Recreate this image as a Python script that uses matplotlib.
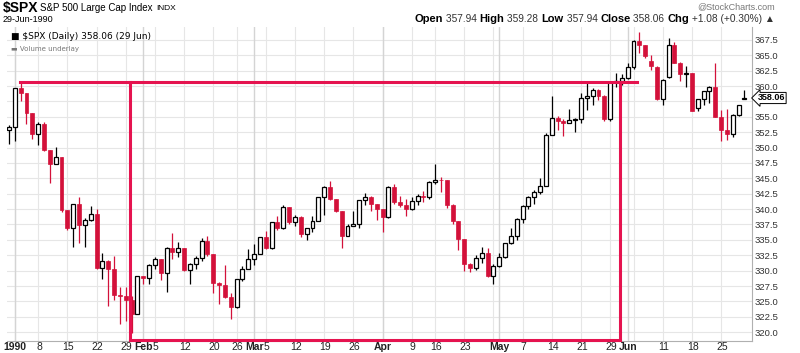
import matplotlib
matplotlib.use("Agg")
import matplotlib.pyplot as plt
from matplotlib.patches import Rectangle
import numpy as np
import datetime as dt

dates = ["1989-12-29",
 "1990-01-02","1990-01-03","1990-01-04","1990-01-05","1990-01-08","1990-01-09","1990-01-10","1990-01-11","1990-01-12",
 "1990-01-15","1990-01-16","1990-01-17","1990-01-18","1990-01-19","1990-01-22","1990-01-23","1990-01-24","1990-01-25",
 "1990-01-26","1990-01-29","1990-01-30","1990-01-31",
 "1990-02-01","1990-02-02","1990-02-05","1990-02-06","1990-02-07","1990-02-08","1990-02-09","1990-02-12","1990-02-13",
 "1990-02-14","1990-02-15","1990-02-16","1990-02-20","1990-02-21","1990-02-22","1990-02-23","1990-02-26","1990-02-27","1990-02-28",
 "1990-03-01","1990-03-02","1990-03-05","1990-03-06","1990-03-07","1990-03-08","1990-03-09","1990-03-12","1990-03-13",
 "1990-03-14","1990-03-15","1990-03-16","1990-03-19","1990-03-20","1990-03-21","1990-03-22","1990-03-23","1990-03-26",
 "1990-03-27","1990-03-28","1990-03-29","1990-03-30",
 "1990-04-02","1990-04-03","1990-04-04","1990-04-05","1990-04-06","1990-04-09","1990-04-10","1990-04-11","1990-04-12",
 "1990-04-16","1990-04-17","1990-04-18","1990-04-19","1990-04-20","1990-04-23","1990-04-24","1990-04-25","1990-04-26",
 "1990-04-27","1990-04-30",
 "1990-05-01","1990-05-02","1990-05-03","1990-05-04","1990-05-07","1990-05-08","1990-05-09","1990-05-10","1990-05-11",
 "1990-05-14","1990-05-15","1990-05-16","1990-05-17","1990-05-18","1990-05-21","1990-05-22","1990-05-23","1990-05-24",
 "1990-05-25","1990-05-29","1990-05-30","1990-05-31",
 "1990-06-01","1990-06-04","1990-06-05","1990-06-06","1990-06-07","1990-06-08","1990-06-11","1990-06-12","1990-06-13",
 "1990-06-14","1990-06-15","1990-06-18","1990-06-19","1990-06-20","1990-06-21","1990-06-22","1990-06-25","1990-06-26",
 "1990-06-27","1990-06-28","1990-06-29"]

opens = [352.9,
 353.4,359.7,358.8,355.7,352.2,353.8,349.6,347.3,348.5,339.9,337.0,340.75,337.4,338.2,339.15,330.4,331.6,330.3,326.1,325.8,325.2,322.98,
 329.08,328.79,330.92,331.85,329.66,333.75,332.96,333.62,330.08,331.02,332.01,334.89,332.72,327.99,327.67,325.70,324.15,328.67,330.26,
 331.89,332.74,335.54,333.74,337.93,336.95,340.27,337.93,338.67,336.00,336.87,338.07,341.91,343.53,341.57,339.74,335.69,337.22,337.63,341.50,342.00,340.79,
 339.94,338.70,343.64,341.09,340.73,340.08,341.37,342.07,341.92,344.34,344.74,344.68,340.72,338.09,335.12,331.05,330.36,332.03,332.92,329.11,
 330.80,332.25,334.48,335.57,338.39,340.53,342.01,342.86,343.82,352.00,354.75,354.28,354.00,354.47,354.64,358.00,358.43,359.29,358.41,354.58,360.65,360.86,
 361.23,363.16,367.40,366.64,364.0,363.15,357.9,361.4,366.7,363.8,362.0,362.1,356.4,357.9,359.2,359.9,354.9,352.9,352.2,355.3,357.94]

highs = [353.6,
 359.7,360.6,358.8,355.7,354.2,354.2,349.6,350.1,348.5,339.9,340.8,342.0,338.5,340.5,339.96,332.8,331.7,332.3,327.4,327.3,325.8,329.1,
 329.2,331.0,332.2,331.9,333.8,336.1,334.6,333.62,331.2,332.3,335.3,335.6,332.72,328.1,330.98,326.3,328.7,330.7,333.5,
 334.4,335.5,336.4,337.9,338.9,340.7,340.3,339.1,338.9,337.0,338.9,341.9,343.8,344.5,341.6,339.74,337.6,339.7,341.5,342.6,342.1,340.8,
 339.94,343.8,344.1,342.1,341.6,341.9,342.4,343.0,344.5,347.3,345.2,344.8,340.8,338.1,335.2,331.3,332.6,333.8,333.6,331.0,
 332.8,334.5,336.9,338.5,340.6,342.1,343.1,344.98,352.3,358.4,355.1,354.7,356.2,354.8,358.9,360.5,359.7,359.6,358.5,360.7,362.2,361.9,
 363.7,367.5,368.8,366.7,365.1,363.2,361.1,367.8,367.2,363.9,363.2,362.2,357.9,359.2,360.0,363.7,356.1,356.2,355.4,357.0,359.28]

lows = [350.6,
 351.1,357.5,353.8,351.4,350.5,349.4,344.2,347.3,339.5,336.6,333.8,334.5,333.9,338.1,330.3,328.7,324.2,325.3,321.4,321.8,319.8,322.98,
 327.9,327.9,330.3,328.5,326.6,331.9,332.2,329.9,327.9,330.2,331.6,332.4,326.3,324.6,325.6,322.2,323.9,328.3,330.2,
 330.9,332.7,333.5,333.5,336.6,336.7,337.5,337.2,335.4,335.0,336.3,338.0,339.1,341.5,339.6,333.6,335.6,337.2,336.9,340.6,339.7,338.2,
 336.3,338.5,340.9,340.3,338.9,339.9,340.6,341.2,341.7,344.1,342.8,340.1,337.6,333.4,330.0,329.7,330.1,331.2,328.9,327.8,
 330.6,332.0,334.3,335.0,337.8,340.0,340.8,342.4,343.8,352.0,352.8,351.9,354.0,352.6,354.0,356.1,356.9,357.7,354.3,354.4,359.8,360.2,
 361.2,362.7,365.3,364.5,362.6,357.7,356.9,361.3,363.7,360.9,359.9,356.0,356.0,356.9,357.3,354.9,351.0,351.2,351.7,355.2,357.94]

closes = [353.4,
 359.7,358.8,355.7,352.2,353.8,349.6,347.3,348.5,339.9,337.0,340.75,337.4,338.2,339.15,330.4,331.6,330.3,326.1,325.8,325.2,322.98,329.08,
 328.79,330.92,331.85,329.66,333.75,332.96,333.62,330.08,331.02,332.01,334.89,332.72,327.99,327.67,325.70,324.15,328.67,330.26,331.89,
 332.74,335.54,333.74,337.93,336.95,340.27,337.93,338.67,336.00,336.87,338.07,341.91,343.53,341.57,339.74,335.69,337.22,337.63,341.50,342.00,340.79,339.94,
 338.70,343.64,341.09,340.73,340.08,341.37,342.07,341.92,344.34,344.74,344.68,340.72,338.09,335.12,331.05,330.36,332.03,332.92,329.11,330.80,
 332.25,334.48,335.57,338.39,340.53,342.01,342.86,343.82,352.00,354.75,354.28,354.00,354.47,354.64,358.00,358.43,359.29,358.41,354.58,360.65,360.86,361.23,
 363.16,367.40,366.64,364.96,363.2,357.9,361.0,366.7,363.8,362.0,362.1,356.0,357.9,359.2,359.9,354.9,352.9,352.2,355.3,356.98,358.06]

y_ticks = [320.0,322.5,325.0,327.5,330.0,332.5,335.0,337.5,340.0,342.5,345.0,347.5,350.0,352.5,355.0,357.5,360.0,362.5,365.0,367.5]
month_labels = {"1990-01": "1990", "1990-02": "Feb", "1990-03": "Mar", "1990-04": "Apr", "1990-05": "May", "1990-06": "Jun"}

top_level = 360.7
bottom_level = 318.7

RED = "#d3113a"
LINE_RED = "#e5134f"
NARROW = ["Liberation Sans Narrow", "Liberation Sans", "DejaVu Sans"]
plt.rcParams["font.family"] = ["Liberation Sans", "DejaVu Sans"]

fig = plt.figure(figsize=(8.0, 3.53), dpi=100)
W, H = 800, 353
ax = fig.add_axes([7/W, (H-341)/H, (752-7)/W, (341-27)/H])
n = len(dates)
ax.set_xlim(-0.34, 127.3)
ax.set_ylim(318.56, 369.6)

for yt in y_ticks:
    ax.axhline(yt, color="#e6e6e6", lw=0.8, zorder=0)

dd = [dt.date.fromisoformat(d) for d in dates]
week_idx = []
month_idx = []
for i in range(1, n):
    if dd[i].month != dd[i-1].month:
        month_idx.append(i)
    if dd[i].isocalendar()[1] != dd[i-1].isocalendar()[1]:
        week_idx.append(i)
for i in week_idx:
    ax.axvline(i, color="#e6e6e6", lw=0.8, zorder=0)
for i in month_idx:
    ax.axvline(i, color="#d4d4d4", lw=1.0, zorder=0)

bw = 0.68
for i in range(n):
    o, h, l, c = opens[i], highs[i], lows[i], closes[i]
    down = c < o
    col = RED if down else "black"
    ax.plot([i, i], [l, h], color=col, lw=0.9, zorder=2, solid_capstyle="butt")
    bot = min(o, c)
    ht = max(abs(c - o), 0.12)
    if down:
        ax.add_patch(Rectangle((i - bw/2, bot), bw, ht, facecolor=RED, edgecolor=RED, lw=0.5, zorder=3))
    else:
        ax.add_patch(Rectangle((i - bw/2, bot), bw, ht, facecolor="white", edgecolor="black", lw=0.9, zorder=3))

ax.plot([1.84, 107.6], [top_level, top_level], color=LINE_RED, lw=2.2, zorder=4, clip_on=False)
ax.plot([20.65, 20.65], [bottom_level, top_level], color=LINE_RED, lw=2.2, zorder=4, clip_on=False)
ax.plot([104.75, 104.75], [bottom_level, top_level], color=LINE_RED, lw=2.2, zorder=4, clip_on=False)
ax.plot([20.65, 104.75], [bottom_level, bottom_level], color=LINE_RED, lw=2.2, zorder=4, clip_on=False)

for s in ["top", "left"]:
    ax.spines[s].set_visible(False)
ax.spines["right"].set_color("#b0b0b0")
ax.spines["bottom"].set_color("#b0b0b0")
ax.spines["right"].set_linewidth(0.8)
ax.spines["bottom"].set_linewidth(0.8)
ax.yaxis.tick_right()
ax.set_yticks(y_ticks)
ax.set_yticklabels(["" if abs(v - 357.5) < 0.01 else f"{v:.1f}" for v in y_ticks], fontsize=6.8, color="#333333")
ax.tick_params(axis="y", length=0, pad=2)

ax.set_xticks([])
ylab = -6/314
anchors = month_idx
for i in anchors:
    t = month_labels[dates[i][:7]]
    ax.text(i, ylab, t, transform=ax.get_xaxis_transform(), ha="center", va="center",
            fontsize=7.5, fontweight="bold", color="#222222", clip_on=False, family=NARROW)
for i in week_idx:
    if i in anchors or any(0 < abs(i - m) <= 1 for m in anchors):
        continue
    ax.text(i + 0.15, ylab, str(dd[i].day), transform=ax.get_xaxis_transform(), ha="center", va="center",
            fontsize=7.5, color="#222222", clip_on=False, family=NARROW)

fig.canvas.draw()
r = fig.canvas.get_renderer()
def put(x, y, t, **kw):
    tx = fig.text(x/W, 1 - y/H, t, va="center", ha="left", **kw)
    return x + tx.get_window_extent(renderer=r).width

x = put(3, 8, "$SPX", fontsize=10, fontweight="bold", family=NARROW)
x = put(x + 2, 8, "S&P 500 Large Cap Index", fontsize=7, family=NARROW)
put(x + 3, 8, "INDX", fontsize=6, family=NARROW)
fig.text(3/W, 1 - 19/H, "29-Jun-1990", fontsize=6.5, va="center", ha="left", family=NARROW)
fig.text(775/W, 1 - 7/H, "@StockCharts.com", fontsize=6.5, va="center", ha="right", color="#777777", family=NARROW)

hdr = [("Open", True), (" 357.94 ", False), ("High", True), (" 359.28 ", False), ("Low", True), (" 357.94 ", False),
       ("Close", True), (" 358.06 ", False), ("Chg", True), (" +1.08 (+0.30%) \u25b2", False)]
x = 775
for t, b in reversed(hdr):
    tx = fig.text(x/W, 1 - 19/H, t, fontsize=8 if b else 7.3, fontweight="bold" if b else "normal",
                  va="center", ha="right", color="#000000" if b else "#333333", family=NARROW)
    x -= tx.get_window_extent(renderer=r).width

ax.text(0.005, 0.985, "\u25a0 $SPX (Daily) 358.06 (29 Jun)", transform=ax.transAxes, fontsize=6.5, va="top", ha="left",
        family=["DejaVu Sans"])
ax.text(0.005, 0.94, "\u25ac Volume underlay", transform=ax.transAxes, fontsize=5, va="top", ha="left", color="#777777",
        family=["DejaVu Sans"])

ax.annotate("358.06", xy=(1.0, closes[-1]), xycoords=("axes fraction", "data"), xytext=(4, 0), textcoords="offset points",
            fontsize=6.5, fontweight="bold", va="center", ha="left",
            bbox=dict(boxstyle="larrow,pad=0.12", fc="white", ec="black", lw=0.7), annotation_clip=False)

fig.savefig("out.png", dpi=100)
